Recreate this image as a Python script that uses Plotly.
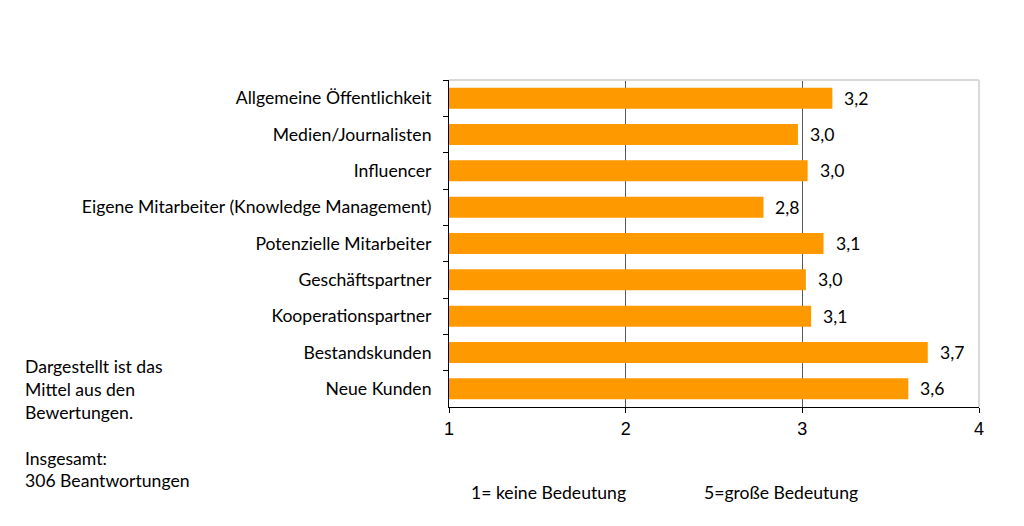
import plotly.graph_objects as go

categories = [
    "Allgemeine Öffentlichkeit",
    "Medien/Journalisten",
    "Influencer",
    "Eigene Mitarbeiter (Knowledge Management)",
    "Potenzielle Mitarbeiter",
    "Geschäftspartner",
    "Kooperationspartner",
    "Bestandskunden",
    "Neue Kunden",
]
values = [3.17, 2.975, 3.03, 2.78, 3.12, 3.02, 3.05, 3.71, 3.60]
value_labels = ["3,2", "3,0", "3,0", "2,8", "3,1", "3,0", "3,1", "3,7", "3,6"]
x_ticks = [1, 2, 3, 4]

BAR = "#FF9900"
LABEL_FONT = dict(family="Lato, Calibri, Carlito, sans-serif", size=17.6, color="#000000")

fig = go.Figure()
fig.add_trace(go.Bar(
    y=categories, x=values, orientation="h",
    marker=dict(color=BAR, line=dict(width=0)),
    hoverinfo="skip",
))

for c, v, t in zip(categories, values, value_labels):
    fig.add_annotation(x=v, y=c, text=t, showarrow=False, xanchor="left",
                       xshift=10, font=LABEL_FONT)

fig.update_layout(
    width=1024, height=526,
    margin=dict(l=449, r=45, t=80, b=119),
    paper_bgcolor="white", plot_bgcolor="white",
    showlegend=False, bargap=0.42,
    xaxis=dict(range=[1, 4], tickvals=x_ticks, ticktext=[str(v) for v in x_ticks],
               showgrid=True, gridcolor="#595959", gridwidth=1,
               showline=True, linecolor="#000000", linewidth=1,
               ticks="outside", ticklen=5, tickcolor="#000000",
               tickfont=dict(family="Arial, Liberation Sans, sans-serif", size=18, color="#000000"),
               zeroline=False, fixedrange=True),
    yaxis=dict(autorange="reversed", showline=True, linecolor="#000000", linewidth=1,
               ticks="outside", ticklen=5, tickcolor="#000000", tickson="boundaries",
               tickfont=LABEL_FONT, ticklabelstandoff=13, showgrid=False, fixedrange=True),
    font=LABEL_FONT,
)

# light grey frame on top and right of plot area
fig.add_shape(type="line", xref="paper", yref="paper", x0=0, x1=1, y0=1, y1=1,
              line=dict(color="#D9D9D9", width=2), layer="above")
fig.add_shape(type="line", xref="paper", yref="paper", x0=1, x1=1, y0=0, y1=1,
              line=dict(color="#D9D9D9", width=2), layer="above")

fig.add_annotation(xref="paper", yref="paper", x=(23 - 449) / 530, y=0,
                   xanchor="left", yanchor="top", align="left", showarrow=False,
                   text="Dargestellt ist das<br>Mittel aus den<br>Bewertungen.<br><br>Insgesamt:<br>306 Beantwortungen",
                   font=LABEL_FONT, yshift=53)
fig.add_annotation(xref="paper", yref="paper", x=(469 - 449) / 530, y=0, yanchor="top",
                   xanchor="left", showarrow=False, text="1= keine Bedeutung",
                   font=LABEL_FONT, yshift=-73)
fig.add_annotation(xref="paper", yref="paper", x=(702 - 449) / 530, y=0, yanchor="top",
                   xanchor="left", showarrow=False, text="5=große Bedeutung",
                   font=LABEL_FONT, yshift=-73)

fig.write_html("out.html")
